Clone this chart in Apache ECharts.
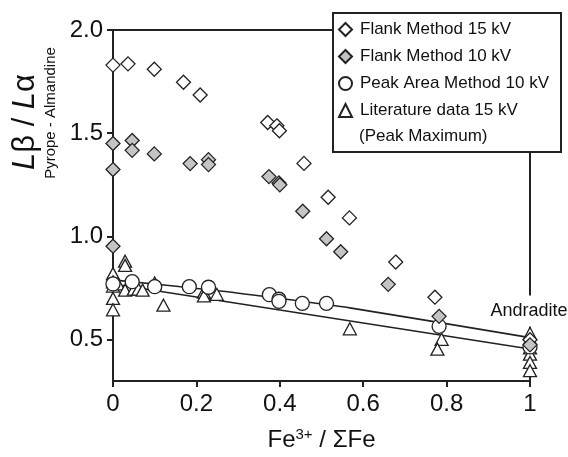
<!DOCTYPE html>
<html>
<head>
<meta charset="utf-8">
<script src="https://cdn.jsdelivr.net/npm/echarts@6/dist/echarts.min.js"></script>
<style>
html,body{margin:0;padding:0;background:#fff;}
#c{width:568px;height:457px;}
</style>
</head>
<body>
<div id="c"></div>
<script>
// ---- data (x = Fe3+/ΣFe, y = Lβ/Lα) ----
const flank15 = [[0,1.83],[0.036,1.836],[0.099,1.81],[0.169,1.747],[0.209,1.685],[0.371,1.552],[0.393,1.536],[0.399,1.512],[0.458,1.354],[0.516,1.19],[0.567,1.09],[0.678,0.876],[0.772,0.706],[1,0.50]];
const flank10 = [[0,1.45],[0,1.324],[0,0.953],[0.046,1.465],[0.046,1.417],[0.099,1.40],[0.185,1.353],[0.229,1.372],[0.229,1.348],[0.374,1.29],[0.398,1.259],[0.40,1.25],[0.455,1.122],[0.512,0.989],[0.546,0.926],[0.66,0.768],[0.782,0.613],[1,0.475]];
const peakArea10 = [[0,0.77],[0.046,0.781],[0.10,0.757],[0.183,0.757],[0.229,0.754],[0.375,0.718],[0.398,0.696],[0.398,0.686],[0.454,0.676],[0.512,0.676],[0.782,0.565],[1,0.465]];
const literature15 = [[0,0.82],[0,0.78],[0,0.76],[0,0.70],[0,0.645],[0.012,0.77],[0.029,0.88],[0.029,0.86],[0.029,0.74],[0.05,0.745],[0.061,0.745],[0.071,0.74],[0.10,0.775],[0.121,0.667],[0.218,0.73],[0.218,0.712],[0.249,0.72],[0.568,0.553],[0.788,0.502],[0.778,0.454],[1,0.53],[1,0.46],[1,0.43],[1,0.39],[1,0.35]];
const fitUpper = [[0,0.79],[0.257,0.736],[0.448,0.687],[0.568,0.654],[1,0.51]];
const fitLower = [[0,0.77],[1,0.455]];
const seriesNames = ['Flank Method 15 kV','Flank Method 10 kV','Peak Area Method 10 kV','Literature data 15 kV'];
const yTicks = [0.5,1.0,1.5,2.0];
const xTicks = [0,0.2,0.4,0.6,0.8,1];

const FONT = '"Liberation Sans", Arial, sans-serif';
const INK = '#222';
const chart = echarts.init(document.getElementById('c'));

function scatter(name, data, symbol, fill, size){
  return {
    name, type:'scatter', data, symbol, symbolSize:size, z:3,
    itemStyle:{color:fill, borderColor:INK, borderWidth:1.3, opacity:1},
    emphasis:{disabled:true}
  };
}
function fit(data){
  return {type:'line', data, symbol:'none', smooth:0.3, z:2, silent:true,
    lineStyle:{color:INK, width:1.6}};
}

chart.setOption({
  animation:false,
  backgroundColor:'#fff',
  textStyle:{fontFamily:FONT},
  grid:{left:113, right:38, top:30, bottom:76, show:true, borderColor:INK, borderWidth:2, backgroundColor:'transparent'},
  xAxis:{
    type:'value', min:0, max:1, interval:0.2,
    axisLine:{show:true, onZero:false, lineStyle:{color:INK, width:2}},
    axisTick:{show:true, inside:false, length:6, lineStyle:{color:INK, width:2}},
    axisLabel:{fontSize:24, color:'#111', fontFamily:FONT, margin:11,
      formatter:v=>String(Math.round(v*10)/10)},
    splitLine:{show:false},
    name:'{b|Fe}{sup|3+}{b| / ΣFe}', nameLocation:'middle', nameGap:46,
    nameTextStyle:{fontFamily:FONT, color:'#111',
      rich:{b:{fontSize:24, fontFamily:FONT, color:'#111', verticalAlign:'bottom'},
            sup:{fontSize:15, fontFamily:FONT, color:'#111', verticalAlign:'bottom', padding:[0,0,10,0]}}}
  },
  yAxis:{
    type:'value', min:0.3, max:2.0,
    axisLine:{show:true, onZero:false, lineStyle:{color:INK, width:2}},
    axisTick:{show:true, inside:false, length:6, customValues:yTicks, lineStyle:{color:INK, width:2}},
    axisLabel:{fontSize:24, color:'#111', fontFamily:FONT, margin:10, customValues:yTicks,
      formatter:v=>v.toFixed(1)},
    splitLine:{show:false}
  },
  legend:{
    data:seriesNames, orient:'vertical', left:338, top:21, itemGap:10,
    itemWidth:13, itemHeight:13, z:6, padding:0,
    textStyle:{fontSize:17, color:'#111', fontFamily:FONT, padding:[0,0,0,3]},
    selectedMode:false
  },
  graphic:[
    {type:'rect', z:5, shape:{x:333, y:13, width:228, height:139},
      style:{fill:'#fff', stroke:INK, lineWidth:2}},
    {type:'text', z:7, x:359, y:136, style:{text:'(Peak Maximum)', font:'17px '+FONT, fill:'#111', verticalAlign:'middle'}},
    {type:'text', z:5, x:529, y:311, style:{text:'Andradite', font:'18px '+FONT, fill:'#111', align:'center', verticalAlign:'middle', backgroundColor:'#fff', padding:[9,2,4,2]}},
    {type:'text', z:5, x:25, y:122, rotation:Math.PI/2,
      style:{text:'{i|L}{n|β / }{i|L}{n|α}', align:'center', verticalAlign:'middle', fill:'#111',
        rich:{i:{font:'italic 31px '+FONT, fill:'#111'}, n:{font:'31px '+FONT, fill:'#111'}}}},
    {type:'text', z:5, x:51, y:113, rotation:Math.PI/2,
      style:{text:'Pyrope - Almandine', font:'15px '+FONT, fill:'#111', align:'center', verticalAlign:'middle'}}
  ],
  series:[
    fit(fitUpper), fit(fitLower),
    scatter(seriesNames[3], literature15, 'triangle', '#fff', [13,12]),
    scatter(seriesNames[2], peakArea10, 'circle', '#fff', 14),
    scatter(seriesNames[0], flank15, 'diamond', '#fff', 14),
    scatter(seriesNames[1], flank10, 'diamond', '#c4c4c4', 14)
  ]
});
</script>
</body>
</html>
